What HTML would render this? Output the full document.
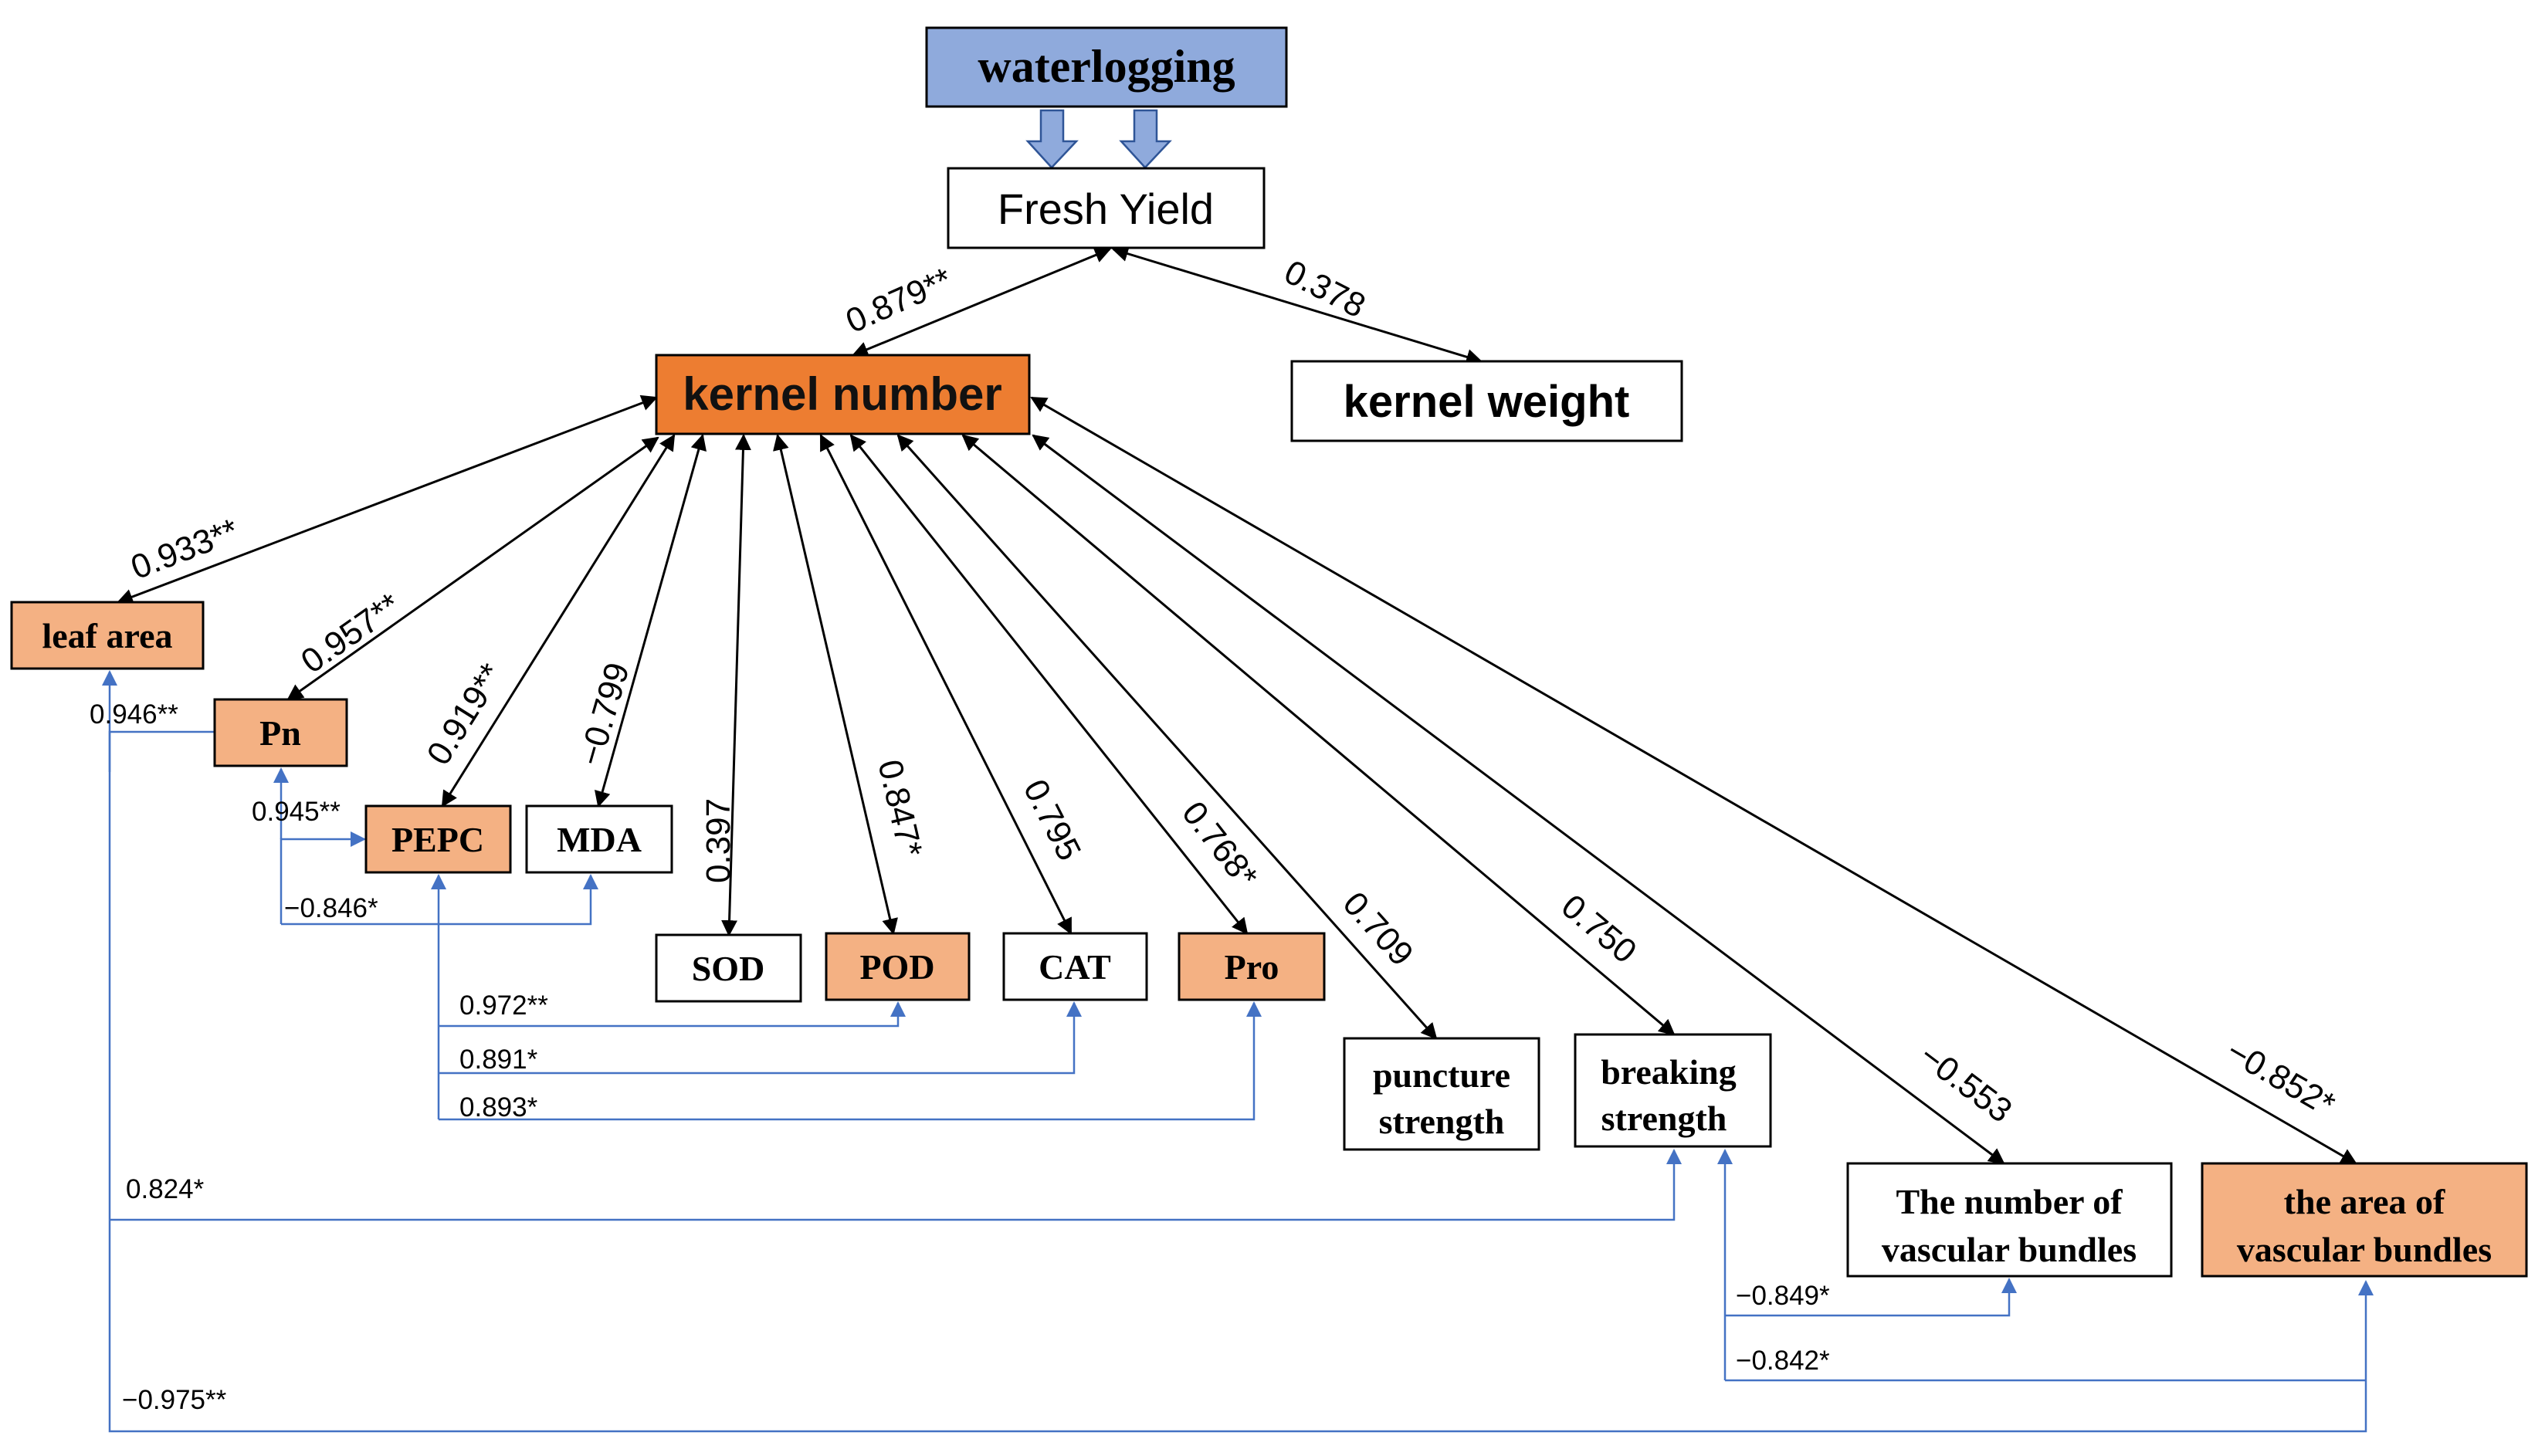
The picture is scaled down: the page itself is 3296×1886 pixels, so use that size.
<!DOCTYPE html>
<html><head><meta charset="utf-8"><style>
html,body{margin:0;padding:0;background:#fff}
svg{display:block}
.s{font-family:"Liberation Sans",sans-serif}
.r{font-family:"Liberation Serif",serif;font-weight:bold}
</style></head><body>
<svg width="3296" height="1886" viewBox="0 0 3296 1886" xmlns="http://www.w3.org/2000/svg">
<defs>
<marker id="ak" viewBox="0 0 10 10" refX="9" refY="5" markerWidth="7" markerHeight="7" orient="auto-start-reverse"><path d="M0,0 L10,5 L0,10 z" fill="#000"/></marker>
<marker id="b" viewBox="0 0 10 10" refX="9" refY="5" markerWidth="8" markerHeight="8" orient="auto"><path d="M0,0 L10,5 L0,10 z" fill="#4472C4"/></marker>
</defs>

<g stroke="#000" stroke-width="3" fill="none" marker-start="url(#ak)" marker-end="url(#ak)">
<line x1="1437" y1="323" x2="1105" y2="460"/>
<line x1="1442" y1="323" x2="1918" y2="468"/>
<line x1="850" y1="515" x2="153" y2="780"/>
<line x1="852" y1="567" x2="373" y2="906"/>
<line x1="873" y1="564" x2="573" y2="1044"/>
<line x1="910" y1="564" x2="775" y2="1044"/>
<line x1="963" y1="564" x2="944" y2="1211"/>
<line x1="1007" y1="564" x2="1157" y2="1209"/>
<line x1="1063" y1="564" x2="1387" y2="1209"/>
<line x1="1102" y1="564" x2="1615" y2="1209"/>
<line x1="1163" y1="564" x2="1860" y2="1345"/>
<line x1="1247" y1="564" x2="2168" y2="1340"/>
<line x1="1338" y1="564" x2="2595" y2="1507"/>
<line x1="1336" y1="515" x2="3051" y2="1507"/>
</g>

<g stroke="#4472C4" stroke-width="2.5" fill="none">
<polyline points="278,948 142,948 142,1854 3064,1854 3064,1660" marker-end="url(#b)"/>
<line x1="142" y1="1000" x2="142" y2="870" marker-end="url(#b)"/>
<polyline points="142,1580 2168,1580 2168,1490" marker-end="url(#b)"/>
<polyline points="364,1087 364,996" marker-end="url(#b)"/>
<polyline points="364,1197 364,1087 472,1087" marker-end="url(#b)"/>
<polyline points="364,1197 765,1197 765,1134" marker-end="url(#b)"/>
<polyline points="568,1450 568,1134" marker-end="url(#b)"/>
<polyline points="568,1329 1163,1329 1163,1299" marker-end="url(#b)"/>
<polyline points="568,1390 1391,1390 1391,1299" marker-end="url(#b)"/>
<polyline points="568,1450 1624,1450 1624,1299" marker-end="url(#b)"/>
<polyline points="2234,1788 2234,1490" marker-end="url(#b)"/>
<polyline points="2234,1704 2602,1704 2602,1657" marker-end="url(#b)"/>
<polyline points="2234,1788 3064,1788"/>
</g>

<g fill="#8FAADC" stroke="#2F5597" stroke-width="2.5">
<path d="M1348,143 H1377 V183 H1394 L1362,217 L1331,183 H1348 Z"/>
<path d="M1469,143 H1498 V183 H1515 L1483,217 L1452,183 H1469 Z"/>
</g>

<g stroke="#000" stroke-width="3">
<rect x="1200" y="36" width="466" height="102" fill="#8FAADC"/>
<rect x="1228" y="218" width="409" height="103" fill="#fff"/>
<rect x="850" y="460" width="483" height="102" fill="#ED7D31"/>
<rect x="1673" y="468" width="505" height="103" fill="#fff"/>
<rect x="15" y="780" width="248" height="86" fill="#F4B183"/>
<rect x="278" y="906" width="171" height="86" fill="#F4B183"/>
<rect x="474" y="1044" width="187" height="86" fill="#F4B183"/>
<rect x="682" y="1044" width="188" height="86" fill="#fff"/>
<rect x="850" y="1211" width="187" height="86" fill="#fff"/>
<rect x="1070" y="1209" width="185" height="86" fill="#F4B183"/>
<rect x="1300" y="1209" width="185" height="86" fill="#fff"/>
<rect x="1527" y="1209" width="188" height="86" fill="#F4B183"/>
<rect x="1741" y="1345" width="252" height="144" fill="#fff"/>
<rect x="2040" y="1340" width="253" height="145" fill="#fff"/>
<rect x="2393" y="1507" width="419" height="146" fill="#fff"/>
<rect x="2852" y="1507" width="420" height="146" fill="#F4B183"/>
</g>

<g text-anchor="middle">
<text x="1433" y="106" class="r" font-size="60" fill="#000">waterlogging</text>
<text x="1432" y="290" class="s" font-size="56">Fresh Yield</text>
<text x="1091" y="531" class="s" font-size="60" font-weight="bold" fill="#111">kernel number</text>
<text x="1925" y="540" class="s" font-size="58" font-weight="bold">kernel weight</text>
<text x="139" y="839" class="r" font-size="46">leaf area</text>
<text x="363" y="965" class="r" font-size="46">Pn</text>
<text x="567" y="1103" class="r" font-size="46">PEPC</text>
<text x="776" y="1103" class="r" font-size="46">MDA</text>
<text x="943" y="1270" class="r" font-size="46">SOD</text>
<text x="1162" y="1268" class="r" font-size="46">POD</text>
<text x="1392" y="1268" class="r" font-size="46">CAT</text>
<text x="1621" y="1268" class="r" font-size="46">Pro</text>
<text x="1867" y="1408" class="r" font-size="46">puncture</text>
<text x="1867" y="1468" class="r" font-size="46">strength</text>
<text x="2161" y="1404" class="r" font-size="46">breaking</text>
<text x="2155" y="1464" class="r" font-size="46">strength</text>
<text x="2602" y="1572" class="r" font-size="46">The number of</text>
<text x="2602" y="1634" class="r" font-size="46">vascular bundles</text>
<text x="3062" y="1572" class="r" font-size="46">the area of</text>
<text x="3062" y="1634" class="r" font-size="46">vascular bundles</text>
</g>

<g class="s" font-size="44" text-anchor="middle">
<text transform="translate(1164,389) rotate(-24)" dy="15">0.879**</text>
<text transform="translate(1716,374) rotate(27)" dy="15">0.378</text>
<text transform="translate(239,711) rotate(-21)" dy="15">0.933**</text>
<text transform="translate(454,820) rotate(-35)" dy="15">0.957**</text>
<text transform="translate(602,925) rotate(-58)" dy="15">0.919**</text>
<text transform="translate(782,925) rotate(-74)" dy="15">−0.799</text>
<text transform="translate(930,1089) rotate(-90)" dy="15">0.397</text>
<text transform="translate(1166,1047) rotate(77)" dy="15">0.847*</text>
<text transform="translate(1363,1062) rotate(63)" dy="15">0.795</text>
<text transform="translate(1580,1094) rotate(52)" dy="15">0.768*</text>
<text transform="translate(1785,1203) rotate(48)" dy="15">0.709</text>
<text transform="translate(2071,1203) rotate(40)" dy="15">0.750</text>
<text transform="translate(2546,1403) rotate(37)" dy="15">−0.553</text>
<text transform="translate(2954,1396) rotate(30)" dy="15">−0.852*</text>
</g>

<g class="s" font-size="35">
<text x="116" y="937">0.946**</text>
<text x="326" y="1063">0.945**</text>
<text x="368" y="1188">−0.846*</text>
<text x="595" y="1314">0.972**</text>
<text x="595" y="1384">0.891*</text>
<text x="595" y="1446">0.893*</text>
<text x="163" y="1552">0.824*</text>
<text x="158" y="1825">−0.975**</text>
<text x="2248" y="1690">−0.849*</text>
<text x="2248" y="1774">−0.842*</text>
</g>
</svg>
</body></html>
